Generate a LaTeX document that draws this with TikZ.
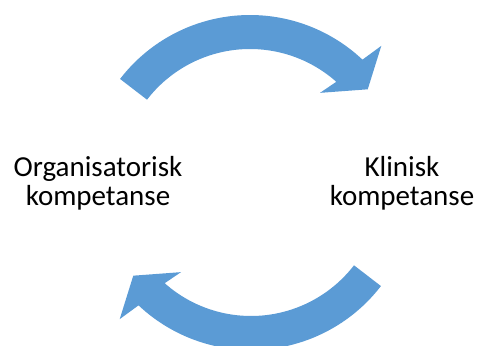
\documentclass[tikz,border=0pt]{standalone}
\usepackage{fontspec}
\setmainfont{Carlito}
\definecolor{accentblue}{HTML}{5B9BD5}
\begin{document}
\begin{tikzpicture}[x=1pt,y=1pt,
        arrowband/.style={fill=accentblue,draw=none},
        every node/.style={align=center,inner sep=0pt,font=\fontsize{29}{29}\selectfont}]
    \useasboundingbox (0,0) rectangle (481,345);
    % the two curved arrows
    \foreach \cx/\cy/\rot in {250/166/0, 251/159/180} {
        \begin{scope}[shift={(\cx,\cy)}]
            \fill[arrowband] (142.4+\rot:164)
                arc[start angle=142.4+\rot, end angle=46.7+\rot, radius=164]
                -- (45.4+\rot:187) -- (37.3+\rot:148) -- (50.9+\rot:111) -- (48.4+\rot:130)
                arc[start angle=48.4+\rot, end angle=142.4+\rot, radius=130]
                -- cycle;
        \end{scope}
    }
    \node (org) at (98,161.5) {Organisatorisk\\kompetanse};
    \node (klin) at (402,161.5) {Klinisk\\kompetanse};
\end{tikzpicture}
\end{document}
